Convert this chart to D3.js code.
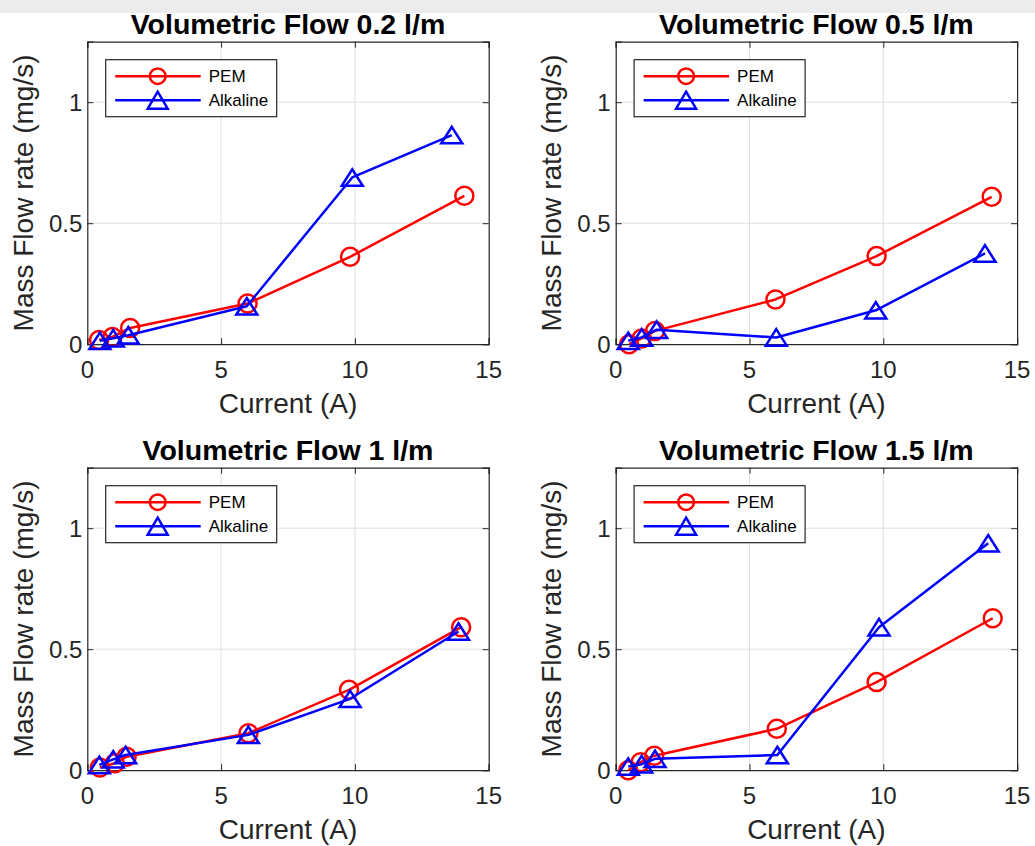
<!DOCTYPE html>
<html>
<head>
<meta charset="utf-8">
<script src="https://cdn.jsdelivr.net/npm/d3@7"></script>
<style>
  html, body { margin: 0; padding: 0; background: #ffffff; }
  svg { display: block; }
  text { font-family: "Liberation Sans", Arial, Helvetica, sans-serif; }
</style>
</head>
<body>
<svg id="chart" width="1035" height="846"></svg>
<script>
// ---------- DATA ----------
const panelTitles = ["Volumetric Flow 0.2 l/m", "Volumetric Flow 0.5 l/m", "Volumetric Flow 1 l/m", "Volumetric Flow 1.5 l/m"];
const seriesNames = ["PEM", "Alkaline"];
const xTicks = [0, 5, 10, 15];
const yTicks = [0, 0.5, 1];
const yTickLabels = ["0", "0.5", "1"];
const xLabel = "Current (A)";
const yLabel = "Mass Flow rate (mg/s)";

// Volumetric Flow 0.2 l/m
const pem02X = [0.44, 0.94, 1.6, 5.99, 9.82, 14.09];
const pem02Y = [0.017, 0.03, 0.067, 0.168, 0.361, 0.613];
const alk02X = [0.47, 0.97, 1.53, 5.96, 9.9, 13.62];
const alk02Y = [0.014, 0.025, 0.037, 0.157, 0.689, 0.864];
// Volumetric Flow 0.5 l/m
const pem05X = [0.5, 0.97, 1.47, 5.97, 9.75, 14.05];
const pem05Y = [0.0, 0.024, 0.055, 0.185, 0.364, 0.609];
const alk05X = [0.47, 0.97, 1.53, 6.0, 9.72, 13.8];
const alk05Y = [0.014, 0.028, 0.06, 0.028, 0.14, 0.375];
// Volumetric Flow 1 l/m
const pem1X = [0.47, 1.03, 1.47, 6.02, 9.78, 13.97];
const pem1Y = [0.011, 0.029, 0.056, 0.153, 0.332, 0.591];
const alk1X = [0.45, 0.97, 1.43, 6.02, 9.82, 13.87];
const alk1Y = [0.022, 0.045, 0.063, 0.146, 0.295, 0.573];
// Volumetric Flow 1.5 l/m
const pem15X = [0.47, 0.93, 1.44, 6.02, 9.75, 14.09];
const pem15Y = [0.0, 0.033, 0.06, 0.171, 0.364, 0.628];
const alk15X = [0.47, 0.97, 1.47, 6.04, 9.84, 13.92];
const alk15Y = [0.015, 0.025, 0.047, 0.063, 0.591, 0.938];

const panelData = [
  [[pem02X, pem02Y], [alk02X, alk02Y]],
  [[pem05X, pem05Y], [alk05X, alk05Y]],
  [[pem1X, pem1Y], [alk1X, alk1Y]],
  [[pem15X, pem15Y], [alk15X, alk15Y]]
];

// ---------- LAYOUT ----------
const colors = ["#ff0000", "#0000ff"];
const axisColor = "#262626";
const gridColor = "#dfdfdf";
const plotW = 401.4, plotH = 302.5;
const lefts = [87.3, 615.7], tops = [41.7, 467.7];
const lw = 2.5;

const svg = d3.select("#chart");

// faint watermark band at the very top
svg.append("rect").attr("x", 0).attr("y", 0).attr("width", 1035).attr("height", 13)
  .attr("fill", "#ececec");

function trianglePath(cx, cy, w, h) {
  return `M${cx},${cy - h / 2}L${cx + w / 2},${cy + h / 2}L${cx - w / 2},${cy + h / 2}Z`;
}

panelData.forEach((series, i) => {
  const left = lefts[i % 2], top = tops[Math.floor(i / 2)];
  const g = svg.append("g").attr("transform", `translate(${left},${top})`);
  const x = d3.scaleLinear().domain([0, 15]).range([0, plotW]);
  const y = d3.scaleLinear().domain([0, 1.25]).range([plotH, 0]);

  g.append("rect").attr("width", plotW).attr("height", plotH).attr("fill", "#fff");

  // grid
  g.append("g").selectAll("line").data(xTicks.filter(t => t > 0 && t < 15)).join("line")
    .attr("x1", d => x(d)).attr("x2", d => x(d)).attr("y1", 0).attr("y2", plotH)
    .attr("stroke", gridColor).attr("stroke-width", 1);
  g.append("g").selectAll("line").data(yTicks.filter(t => t > 0)).join("line")
    .attr("y1", d => y(d)).attr("y2", d => y(d)).attr("x1", 0).attr("x2", plotW)
    .attr("stroke", gridColor).attr("stroke-width", 1);

  // axes (inward ticks on all four sides)
  const xb = d3.axisBottom(x).tickValues(xTicks).tickSize(-6).tickFormat("");
  const xt = d3.axisTop(x).tickValues(xTicks).tickSize(-6).tickFormat("");
  const yl = d3.axisLeft(y).tickValues(yTicks).tickSize(-6).tickFormat("");
  const yr = d3.axisRight(y).tickValues(yTicks).tickSize(-6).tickFormat("");
  [[xb, `translate(0,${plotH})`], [xt, "translate(0,0)"], [yl, "translate(0,0)"], [yr, `translate(${plotW},0)`]]
    .forEach(([ax, tr]) => {
      const a = g.append("g").attr("transform", tr).call(ax);
      a.selectAll("path.domain").attr("stroke", axisColor).attr("stroke-width", 1.2);
      a.selectAll(".tick line").attr("stroke", axisColor).attr("stroke-width", 1);
    });

  // tick labels
  g.append("g").selectAll("text").data(xTicks).join("text")
    .attr("x", d => x(d)).attr("y", plotH + 34)
    .attr("text-anchor", "middle").attr("font-size", 24).attr("fill", axisColor)
    .text(d => d);
  g.append("g").selectAll("text").data(yTicks).join("text")
    .attr("x", -5).attr("y", d => y(d) + 8.5)
    .attr("text-anchor", "end").attr("font-size", 24).attr("fill", axisColor)
    .text((d, j) => yTickLabels[j]);

  // axis labels
  g.append("text").attr("x", plotW / 2).attr("y", plotH + 69)
    .attr("text-anchor", "middle").attr("font-size", 28).attr("fill", axisColor).text(xLabel);
  g.append("text").attr("transform", `translate(${-54.5},${plotH / 2}) rotate(-90)`)
    .attr("text-anchor", "middle").attr("font-size", 28).attr("fill", axisColor).text(yLabel);

  // title
  g.append("text").attr("x", plotW / 2).attr("y", -8)
    .attr("text-anchor", "middle").attr("font-size", 28.5).attr("font-weight", "bold")
    .attr("fill", "#000").text(panelTitles[i]);

  // series
  const line = d3.line().x(d => x(d[0])).y(d => y(d[1]));
  series.forEach(([xs, ys], s) => {
    const pts = xs.map((v, k) => [v, ys[k]]);
    g.append("path").datum(pts).attr("d", line).attr("fill", "none")
      .attr("stroke", colors[s]).attr("stroke-width", lw).attr("stroke-linejoin", "round");
    if (s === 0) {
      g.append("g").selectAll("circle").data(pts).join("circle")
        .attr("cx", d => x(d[0])).attr("cy", d => y(d[1])).attr("r", 9)
        .attr("fill", "none").attr("stroke", colors[s]).attr("stroke-width", lw);
    } else {
      g.append("g").selectAll("path").data(pts).join("path")
        .attr("d", d => trianglePath(x(d[0]), y(d[1]), 21, 16.5))
        .attr("fill", "none").attr("stroke", colors[s]).attr("stroke-width", lw)
        .attr("stroke-linejoin", "miter");
    }
  });

  // legend
  const lg = g.append("g").attr("transform", "translate(18.4,18)");
  lg.append("rect").attr("width", 171).attr("height", 57)
    .attr("fill", "#fff").attr("stroke", axisColor).attr("stroke-width", 1.2);
  seriesNames.forEach((name, s) => {
    const cy = 16.5 + s * 24;
    lg.append("line").attr("x1", 9.5).attr("x2", 95).attr("y1", cy).attr("y2", cy)
      .attr("stroke", colors[s]).attr("stroke-width", lw);
    if (s === 0) {
      lg.append("circle").attr("cx", 52).attr("cy", cy).attr("r", 7.8)
        .attr("fill", "none").attr("stroke", colors[s]).attr("stroke-width", lw);
    } else {
      lg.append("path").attr("d", trianglePath(52, cy, 20, 17))
        .attr("fill", "none").attr("stroke", colors[s]).attr("stroke-width", lw);
    }
    lg.append("text").attr("x", 103).attr("y", cy + 6).attr("font-size", 17)
      .attr("fill", "#000").text(name);
  });
});
</script>
</body>
</html>
